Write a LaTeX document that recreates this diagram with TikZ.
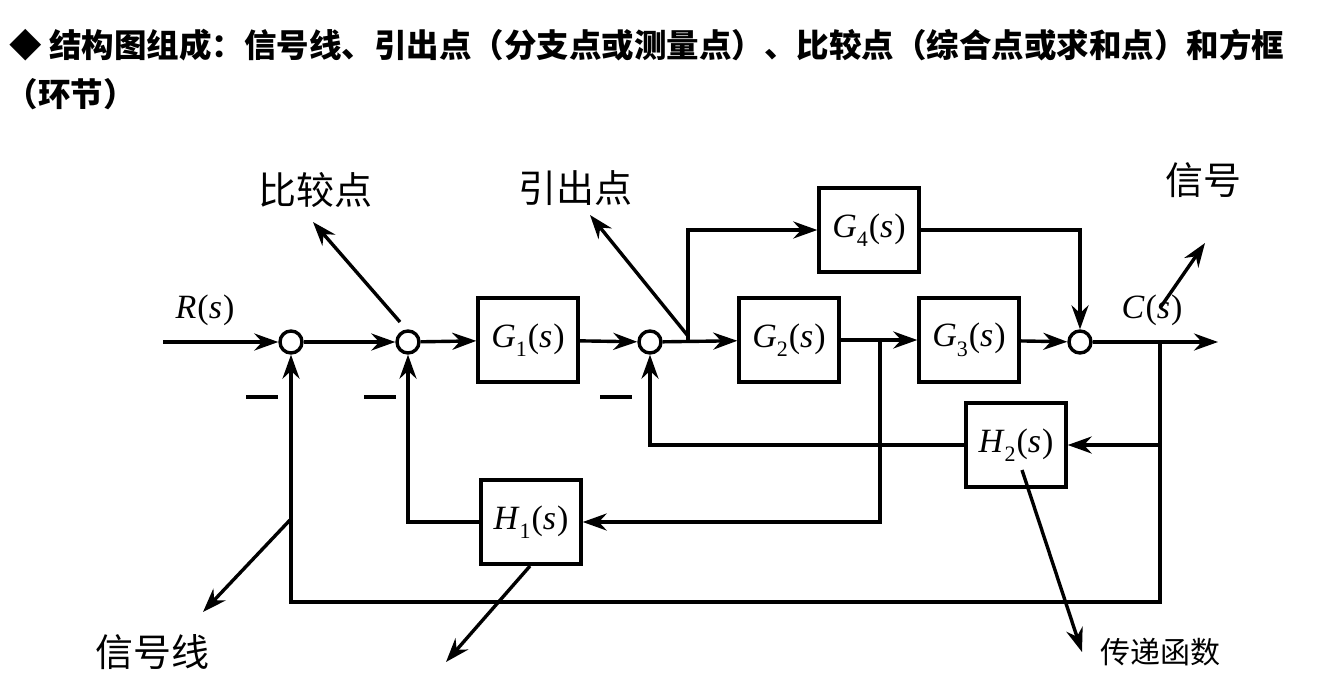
\documentclass[tikz,border=0pt]{standalone}
\usepackage{fontspec}
\setmainfont{Liberation Serif}
\newfontfamily\cjk{Noto Sans CJK SC}
\newcommand{\tfn}[2]{\textit{#1}\raisebox{-0.28em}{\fontsize{22}{22}\selectfont #2}\kern1pt(\textit{s}\kern1pt)}
\usetikzlibrary{arrows.meta}
\begin{document}
\begin{tikzpicture}[x=1pt,y=-1pt,
  ln/.style={line width=3.4pt},
  ar/.style={ln,-{Stealth[length=24pt,width=17pt]}},
  blk/.style={draw,line width=3.4pt,minimum width=100pt,minimum height=84pt,inner sep=0pt,font=\fontsize{34}{34}\selectfont},
  sj/.style={circle,draw,line width=3.4pt,minimum size=22pt,inner sep=0pt},
  lab/.style={font=\fontsize{38}{38}\selectfont\cjk},
  ml/.style={font=\fontsize{34}{34}\selectfont}]
\useasboundingbox (0,0) rectangle (1324,672);
\clip (0,0) rectangle (1324,672);
\node[anchor=west,font=\fontsize{32.5}{32.5}\selectfont\cjk\bfseries] (t1) at (6,45) {◆ 结构图组成：信号线、引出点（分支点或测量点）、比较点（综合点或求和点）和方框};
\node[anchor=west,font=\fontsize{32.5}{32.5}\selectfont\cjk\bfseries] (t2) at (2,94) {（环节）};
\node[sj] (s1) at (291,342) {};
\node[sj] (s2) at (408,342) {};
\node[sj] (s3) at (650,342) {};
\node[sj] (s4) at (1080,342) {};
\node[blk] (g1) at (528,340) {\tfn{G}{1}};
\node[blk] (g2) at (789,340) {\tfn{G}{2}};
\node[blk] (g3) at (969,340) {\tfn{G}{3}};
\node[blk] (g4) at (869,230) {\tfn{G}{4}};
\node[blk] (h2) at (1016,445) {\tfn{H}{2}};
\node[blk] (h1) at (531,522) {\tfn{H}{1}};
\coordinate (in) at (163,342);
\coordinate (out) at (1218,342);
\coordinate (b1) at (688,342);
\coordinate (b2) at (880,342);
\coordinate (b3) at (1160,342);
\draw[ar] (in) -- (s1);
\draw[ar] (s1) -- (s2);
\draw[ar] (s2) -- (g1);
\draw[ar] (g1) -- (s3);
\draw[ar] (s3) -- (g2);
\draw[ar] (g2) -- (g3);
\draw[ar] (g3) -- (s4);
\draw[ar] (s4) -- (out);
\draw[ar] (b1) |- (g4);
\draw[ar] (g4) -| (s4);
\draw[ar] (b2) |- (h1);
\draw[ar] (h1) -| (s2);
\draw[ar] (b3) |- (h2);
\draw[ar] (h2) -| (s3);
\coordinate (lb) at (1160,602);
\draw[ar] (b3) -- (lb) -| (s1);
\node[ml] (rl) at (205,310) {\textit{R}\kern1pt(\textit{s}\kern1pt)};
\node[ml] (cl) at (1152,310) {\textit{C}\kern1pt(\textit{s}\kern1pt)};
\foreach \x in {262,380,616} \draw[ln] (\x-16,397) -- (\x+16,397);
\node[lab] (a1) at (315,190) {比较点};
\node[lab] (a2) at (575,188) {引出点};
\node[lab] (a3) at (1203,180) {信号};
\node[lab] (a4) at (152,652) {信号线};
\node[lab,font=\fontsize{30}{30}\selectfont\cjk] (a5) at (1160,652) {传递函数};
\coordinate (p1) at (400,322);
\coordinate (p2) at (688,336);
\coordinate (p3) at (1160,308);
\coordinate (p4) at (290,520);
\coordinate (p5) at (530,566);
\coordinate (p6) at (1022,470);
\draw[ar] (p1) -- (313,222);
\draw[ar] (p2) -- (590,215);
\draw[ar] (p3) -- (1205,243);
\draw[ar] (p4) -- (203,612);
\draw[ar] (p5) -- (446,662);
\draw[ar] (p6) -- (1082,652);
\end{tikzpicture}
\end{document}
